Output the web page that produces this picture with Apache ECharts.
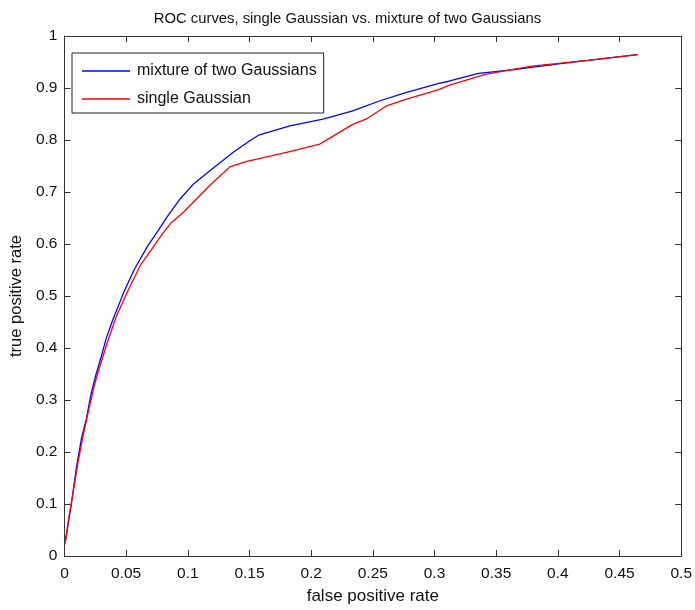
<!DOCTYPE html>
<html>
<head>
<meta charset="utf-8">
<script src="https://cdn.jsdelivr.net/npm/echarts@6/dist/echarts.min.js"></script>
<style>html,body{margin:0;padding:0;background:#fff;}#c{width:695px;height:610px;}</style>
</head>
<body>
<div id="c"></div>
<script>
var titleText = 'ROC curves, single Gaussian vs. mixture of two Gaussians';
var xName = 'false positive rate';
var yName = 'true positive rate';
var seriesNames = ['mixture of two Gaussians', 'single Gaussian'];

var mixFPR = [0.001,0.0016,0.0056,0.0097,0.0137,0.0177,0.0217,0.0258,0.0298,0.0338,0.039,0.0459,0.0486,0.0566,0.0674,0.0754,0.0835,0.0942,0.1049,0.1184,0.1371,0.1506,0.158,0.1828,0.2096,0.2337,0.2552,0.2767,0.3035,0.3116,0.3357,0.3626,0.4055,0.4243,0.4646];
var mixTPR = [0.03,0.04,0.10,0.17,0.225,0.263,0.313,0.351,0.383,0.418,0.453,0.494,0.51,0.551,0.596,0.624,0.653,0.688,0.716,0.742,0.777,0.799,0.810,0.827,0.84,0.856,0.875,0.891,0.909,0.913,0.928,0.935,0.948,0.953,0.964];

var singleFPR = [0.0005,0.0008,0.004,0.007,0.011,0.015,0.02,0.025,0.03,0.035,0.0419,0.0526,0.062,0.0714,0.0781,0.0862,0.0969,0.1076,0.1184,0.1345,0.1479,0.1801,0.2069,0.2337,0.2445,0.2606,0.2767,0.3035,0.3116,0.3411,0.3787,0.4243,0.4646];
var singleTPR = [0.022,0.03,0.08,0.122,0.18,0.23,0.285,0.335,0.375,0.412,0.46,0.516,0.561,0.592,0.615,0.64,0.662,0.688,0.714,0.749,0.759,0.776,0.792,0.830,0.84,0.865,0.878,0.897,0.905,0.926,0.942,0.953,0.964];

function pairs(xs, ys){ return xs.map(function(x,i){ return [x, ys[i]]; }); }

var FONT = '"Liberation Sans",Arial,sans-serif';
var axisCol = '#333';
var chart = echarts.init(document.getElementById('c'), null, {renderer:'canvas'});
var tickInside = {show:true, inside:true, length:6, lineStyle:{color:axisCol, width:1}};
chart.setOption({
  animation:false,
  backgroundColor:'#fff',
  title:{text:titleText, left:'center', top:6, textStyle:{fontFamily:FONT, fontSize:14.8, fontWeight:'normal', color:'#111'}},
  grid:{left:63, top:36, right:11, bottom:49, containLabel:false},
  legend:{
    orient:'vertical', left:72, top:53,
    borderColor:'#222', borderWidth:1, backgroundColor:'#fff',
    padding:[8,7,4,10], itemWidth:48, itemHeight:1.3, itemGap:8,
    icon:'rect',
    textStyle:{fontFamily:FONT, fontSize:16, color:'#111', lineHeight:20, padding:[0,0,0,2]},
    data:seriesNames
  },
  xAxis:[
    {type:'value', min:0, max:0.5, interval:0.05, position:'bottom',
     name:xName, nameLocation:'middle', nameGap:32,
     nameTextStyle:{fontFamily:FONT, fontSize:17, color:'#111'},
     axisLine:{show:true, onZero:false, lineStyle:{color:axisCol, width:1}},
     axisTick:tickInside, splitLine:{show:false},
     axisLabel:{fontFamily:FONT, fontSize:15.5, color:'#111', margin:10}},
    {type:'value', min:0, max:0.5, interval:0.05, position:'top',
     axisLine:{show:true, onZero:false, lineStyle:{color:axisCol, width:1}},
     axisTick:tickInside, splitLine:{show:false}, axisLabel:{show:false}}
  ],
  yAxis:[
    {type:'value', min:0, max:1, interval:0.1, position:'left',
     name:yName, nameLocation:'middle', nameGap:38,
     nameTextStyle:{fontFamily:FONT, fontSize:16.5, color:'#111'},
     axisLine:{show:true, onZero:false, lineStyle:{color:axisCol, width:1}},
     axisTick:tickInside, splitLine:{show:false},
     axisLabel:{fontFamily:FONT, fontSize:15.5, color:'#111', margin:7}},
    {type:'value', min:0, max:1, interval:0.1, position:'right',
     axisLine:{show:true, onZero:false, lineStyle:{color:axisCol, width:1}},
     axisTick:tickInside, splitLine:{show:false}, axisLabel:{show:false}}
  ],
  series:[
    {name:seriesNames[0], type:'line', data:pairs(mixFPR, mixTPR), showSymbol:false, symbol:'none',
     color:'#0000ff', lineStyle:{color:'#0000ff', width:1.3}, xAxisIndex:0, yAxisIndex:0},
    {name:seriesNames[1], type:'line', data:pairs(singleFPR, singleTPR), showSymbol:false, symbol:'none',
     color:'#ff0000', lineStyle:{color:'#ff0000', width:1.3}, xAxisIndex:0, yAxisIndex:0}
  ]
});
</script>
</body>
</html>
